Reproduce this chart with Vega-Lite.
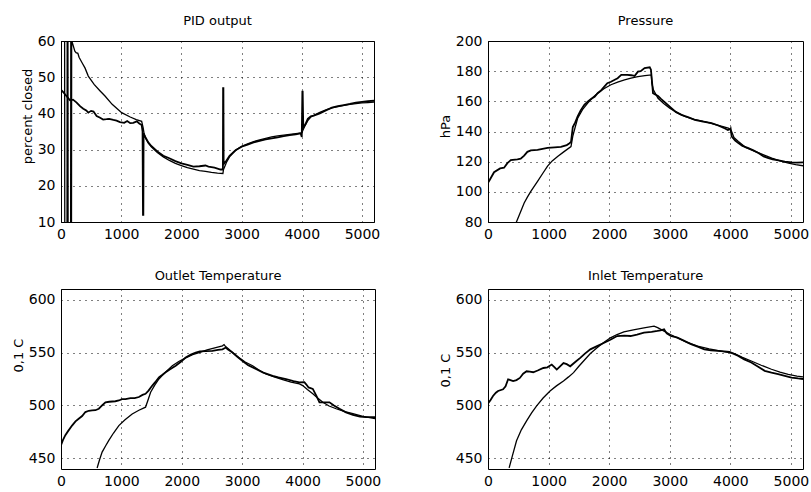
{
  "$schema": "https://vega.github.io/schema/vega-lite/v6.json",
  "padding": {"left": 11, "top": 14, "right": 5, "bottom": 5},
  "background": "white",
  "config": {
    "font": "DejaVu Sans",
    "view": {"stroke": "black", "strokeWidth": 1},
    "axis": {
      "grid": true, "gridDash": [1, 5], "gridColor": "black", "gridOpacity": 1, "gridWidth": 1,
      "domain": false, "ticks": false,
      "labelFont": "DejaVu Sans", "labelFontSize": 14, "labelColor": "black", "labelPadding": 6,
      "labelFlush": false, "labelOverlap": false,
      "titleFont": "DejaVu Sans", "titleFontSize": 13, "titleFontWeight": "normal", "titleColor": "black", "titlePadding": 3
    },
    "axisX": {"labelPadding": 5},
    "title": {"font": "DejaVu Sans", "fontSize": 13, "fontWeight": "normal", "color": "black", "offset": 6}
  },
  "bounds": "flush",
  "columns": 2,
  "spacing": {"row": 67, "column": 113},
  "datasets": {
    "pid": [
      {"t":0,"v":5,"s":"a"},{"t":3,"v":65,"s":"a"},{"t":60,"v":65,"s":"a"},{"t":63,"v":5,"s":"a"},{"t":100,"v":5,"s":"a"},{"t":103,"v":65,"s":"a"},{"t":115,"v":65,"s":"a"},{"t":118,"v":5,"s":"a"},{"t":160,"v":5,"s":"a"},{"t":163,"v":65,"s":"a"},{"t":168,"v":65,"s":"a"},{"t":171,"v":5,"s":"a"},{"t":174,"v":5,"s":"a"},{"t":177,"v":64,"s":"a"},
      {"t":180,"v":60,"s":"a"},{"t":230,"v":57.2,"s":"a"},{"t":250,"v":56.8,"s":"a"},{"t":280,"v":56.6,"s":"a"},{"t":300,"v":55.5,"s":"a"},{"t":350,"v":54,"s":"a"},{"t":400,"v":52.5,"s":"a"},{"t":453,"v":50.3,"s":"a"},{"t":550,"v":48,"s":"a"},{"t":650,"v":46.2,"s":"a"},{"t":731,"v":44.8,"s":"a"},{"t":850,"v":42.5,"s":"a"},{"t":1008,"v":40.2,"s":"a"},{"t":1150,"v":39,"s":"a"},{"t":1250,"v":38.3,"s":"a"},{"t":1340,"v":37.8,"s":"a"},{"t":1365,"v":36,"s":"a"},{"t":1380,"v":34.5,"s":"a"},{"t":1400,"v":33.3,"s":"a"},{"t":1450,"v":31.8,"s":"a"},{"t":1500,"v":30.8,"s":"a"},{"t":1600,"v":29.2,"s":"a"},{"t":1700,"v":28,"s":"a"},{"t":1800,"v":27,"s":"a"},{"t":1900,"v":26.2,"s":"a"},{"t":2000,"v":25.6,"s":"a"},{"t":2100,"v":25,"s":"a"},{"t":2200,"v":24.6,"s":"a"},{"t":2300,"v":24.2,"s":"a"},{"t":2400,"v":24,"s":"a"},{"t":2500,"v":23.7,"s":"a"},{"t":2600,"v":23.5,"s":"a"},{"t":2690,"v":23.4,"s":"a"},{"t":2700,"v":24.5,"s":"a"},{"t":2750,"v":26.5,"s":"a"},{"t":2800,"v":28,"s":"a"},{"t":2900,"v":29.8,"s":"a"},{"t":3000,"v":30.9,"s":"a"},{"t":3100,"v":31.6,"s":"a"},{"t":3200,"v":32.2,"s":"a"},{"t":3300,"v":32.7,"s":"a"},{"t":3400,"v":33.1,"s":"a"},{"t":3500,"v":33.5,"s":"a"},{"t":3600,"v":33.8,"s":"a"},{"t":3700,"v":34,"s":"a"},{"t":3800,"v":34.2,"s":"a"},{"t":3900,"v":34.4,"s":"a"},{"t":4000,"v":34.6,"s":"a"},{"t":4050,"v":36.5,"s":"a"},{"t":4100,"v":38,"s":"a"},{"t":4150,"v":39,"s":"a"},{"t":4200,"v":39.5,"s":"a"},{"t":4300,"v":40.3,"s":"a"},{"t":4400,"v":41,"s":"a"},{"t":4500,"v":41.5,"s":"a"},{"t":4600,"v":41.9,"s":"a"},{"t":4700,"v":42.2,"s":"a"},{"t":4800,"v":42.5,"s":"a"},{"t":4900,"v":42.7,"s":"a"},{"t":5000,"v":42.9,"s":"a"},{"t":5100,"v":43,"s":"a"},{"t":5200,"v":43.1,"s":"a"},
      {"t":0,"v":46.5,"s":"b"},{"t":30,"v":46,"s":"b"},{"t":66,"v":45.3,"s":"b"},{"t":150,"v":43.6,"s":"b"},{"t":200,"v":43.8,"s":"b"},{"t":260,"v":43,"s":"b"},{"t":316,"v":42,"s":"b"},{"t":370,"v":41.3,"s":"b"},{"t":420,"v":40.8,"s":"b"},{"t":453,"v":40.2,"s":"b"},{"t":500,"v":40.7,"s":"b"},{"t":540,"v":40.5,"s":"b"},{"t":592,"v":39.3,"s":"b"},{"t":650,"v":38.8,"s":"b"},{"t":700,"v":38.3,"s":"b"},{"t":757,"v":38.4,"s":"b"},{"t":800,"v":38.5,"s":"b"},{"t":870,"v":38.2,"s":"b"},{"t":923,"v":38,"s":"b"},{"t":980,"v":37.6,"s":"b"},{"t":1050,"v":37.4,"s":"b"},{"t":1100,"v":37.9,"s":"b"},{"t":1150,"v":37.3,"s":"b"},{"t":1200,"v":37.4,"s":"b"},{"t":1260,"v":37.8,"s":"b"},{"t":1300,"v":37.2,"s":"b"},{"t":1340,"v":36.8,"s":"b"},{"t":1355,"v":35,"s":"b"},{"t":1362,"v":12,"s":"b"},{"t":1368,"v":12,"s":"b"},{"t":1372,"v":34.5,"s":"b"},{"t":1400,"v":33.5,"s":"b"},{"t":1450,"v":32,"s":"b"},{"t":1500,"v":31,"s":"b"},{"t":1600,"v":29.5,"s":"b"},{"t":1700,"v":28.3,"s":"b"},{"t":1800,"v":27.6,"s":"b"},{"t":1900,"v":26.8,"s":"b"},{"t":2000,"v":26.2,"s":"b"},{"t":2100,"v":25.8,"s":"b"},{"t":2200,"v":25.3,"s":"b"},{"t":2300,"v":25.4,"s":"b"},{"t":2400,"v":25.6,"s":"b"},{"t":2450,"v":25.3,"s":"b"},{"t":2550,"v":25,"s":"b"},{"t":2650,"v":24.5,"s":"b"},{"t":2690,"v":24.5,"s":"b"},{"t":2693,"v":47,"s":"b"},{"t":2698,"v":47,"s":"b"},{"t":2702,"v":26,"s":"b"},{"t":2750,"v":27,"s":"b"},{"t":2800,"v":28.3,"s":"b"},{"t":2900,"v":29.8,"s":"b"},{"t":3000,"v":30.8,"s":"b"},{"t":3100,"v":31.4,"s":"b"},{"t":3200,"v":32,"s":"b"},{"t":3300,"v":32.4,"s":"b"},{"t":3400,"v":32.8,"s":"b"},{"t":3500,"v":33.1,"s":"b"},{"t":3600,"v":33.4,"s":"b"},{"t":3700,"v":33.7,"s":"b"},{"t":3800,"v":34,"s":"b"},{"t":3900,"v":34.2,"s":"b"},{"t":3980,"v":34.5,"s":"b"},{"t":4000,"v":33.5,"s":"b"},{"t":4010,"v":46,"s":"b"},{"t":4015,"v":46,"s":"b"},{"t":4025,"v":36,"s":"b"},{"t":4060,"v":37,"s":"b"},{"t":4100,"v":38.5,"s":"b"},{"t":4150,"v":39.2,"s":"b"},{"t":4200,"v":39.4,"s":"b"},{"t":4300,"v":40,"s":"b"},{"t":4400,"v":40.8,"s":"b"},{"t":4500,"v":41.6,"s":"b"},{"t":4600,"v":42,"s":"b"},{"t":4700,"v":42.3,"s":"b"},{"t":4800,"v":42.6,"s":"b"},{"t":4900,"v":43,"s":"b"},{"t":5000,"v":43.2,"s":"b"},{"t":5100,"v":43.4,"s":"b"},{"t":5200,"v":43.5,"s":"b"}
    ],
    "pressure": [
      {"t":0,"v":106,"s":"b"},{"t":30,"v":108,"s":"b"},{"t":100,"v":113,"s":"b"},{"t":200,"v":115.5,"s":"b"},{"t":265,"v":116,"s":"b"},{"t":320,"v":119,"s":"b"},{"t":376,"v":121,"s":"b"},{"t":486,"v":121.5,"s":"b"},{"t":540,"v":122,"s":"b"},{"t":597,"v":124,"s":"b"},{"t":650,"v":126.5,"s":"b"},{"t":707,"v":127.5,"s":"b"},{"t":818,"v":127.8,"s":"b"},{"t":900,"v":128.5,"s":"b"},{"t":983,"v":129.2,"s":"b"},{"t":1100,"v":129.5,"s":"b"},{"t":1204,"v":129.8,"s":"b"},{"t":1300,"v":131,"s":"b"},{"t":1340,"v":132,"s":"b"},{"t":1370,"v":133,"s":"b"},{"t":1400,"v":143,"s":"b"},{"t":1440,"v":146,"s":"b"},{"t":1480,"v":150,"s":"b"},{"t":1530,"v":154,"s":"b"},{"t":1590,"v":157.7,"s":"b"},{"t":1650,"v":160,"s":"b"},{"t":1700,"v":161.5,"s":"b"},{"t":1760,"v":163,"s":"b"},{"t":1810,"v":165.4,"s":"b"},{"t":1860,"v":167,"s":"b"},{"t":1920,"v":169.8,"s":"b"},{"t":1970,"v":172,"s":"b"},{"t":2030,"v":173,"s":"b"},{"t":2100,"v":174.5,"s":"b"},{"t":2140,"v":175.3,"s":"b"},{"t":2200,"v":177.5,"s":"b"},{"t":2300,"v":177.5,"s":"b"},{"t":2365,"v":177.3,"s":"b"},{"t":2420,"v":176.8,"s":"b"},{"t":2475,"v":179.7,"s":"b"},{"t":2520,"v":180,"s":"b"},{"t":2585,"v":182,"s":"b"},{"t":2670,"v":182.6,"s":"b"},{"t":2690,"v":181,"s":"b"},{"t":2700,"v":176.4,"s":"b"},{"t":2724,"v":165.4,"s":"b"},{"t":2760,"v":164.5,"s":"b"},{"t":2807,"v":163.5,"s":"b"},{"t":2860,"v":161.5,"s":"b"},{"t":2917,"v":159.5,"s":"b"},{"t":3028,"v":155.5,"s":"b"},{"t":3100,"v":153,"s":"b"},{"t":3193,"v":151,"s":"b"},{"t":3300,"v":149.5,"s":"b"},{"t":3414,"v":147.7,"s":"b"},{"t":3550,"v":146.5,"s":"b"},{"t":3690,"v":145.5,"s":"b"},{"t":3800,"v":144,"s":"b"},{"t":3912,"v":142,"s":"b"},{"t":3960,"v":141,"s":"b"},{"t":3995,"v":141.5,"s":"b"},{"t":4005,"v":142,"s":"b"},{"t":4022,"v":136.7,"s":"b"},{"t":4080,"v":134,"s":"b"},{"t":4133,"v":132.3,"s":"b"},{"t":4200,"v":130.5,"s":"b"},{"t":4298,"v":129,"s":"b"},{"t":4380,"v":127.5,"s":"b"},{"t":4464,"v":125.7,"s":"b"},{"t":4550,"v":123.5,"s":"b"},{"t":4630,"v":122.4,"s":"b"},{"t":4700,"v":121.5,"s":"b"},{"t":4796,"v":120.8,"s":"b"},{"t":4900,"v":120,"s":"b"},{"t":5017,"v":119.5,"s":"b"},{"t":5100,"v":119.3,"s":"b"},{"t":5200,"v":119.5,"s":"b"},
      {"t":459,"v":79,"s":"a"},{"t":530,"v":86,"s":"a"},{"t":597,"v":92.6,"s":"a"},{"t":650,"v":96.5,"s":"a"},{"t":707,"v":100.3,"s":"a"},{"t":818,"v":107,"s":"a"},{"t":900,"v":112,"s":"a"},{"t":983,"v":117,"s":"a"},{"t":1060,"v":120.5,"s":"a"},{"t":1149,"v":123.5,"s":"a"},{"t":1250,"v":126.5,"s":"a"},{"t":1370,"v":130,"s":"a"},{"t":1400,"v":137,"s":"a"},{"t":1440,"v":143,"s":"a"},{"t":1480,"v":148.8,"s":"a"},{"t":1560,"v":154.5,"s":"a"},{"t":1646,"v":158.8,"s":"a"},{"t":1730,"v":162.5,"s":"a"},{"t":1810,"v":165.4,"s":"a"},{"t":1920,"v":168.5,"s":"a"},{"t":2030,"v":171,"s":"a"},{"t":2140,"v":172.8,"s":"a"},{"t":2254,"v":174.2,"s":"a"},{"t":2360,"v":175.4,"s":"a"},{"t":2475,"v":176.4,"s":"a"},{"t":2590,"v":177,"s":"a"},{"t":2696,"v":177.5,"s":"a"},{"t":2705,"v":172,"s":"a"},{"t":2730,"v":167.6,"s":"a"},{"t":2807,"v":162,"s":"a"},{"t":2900,"v":158.5,"s":"a"},{"t":3000,"v":155.5,"s":"a"},{"t":3120,"v":152.5,"s":"a"},{"t":3250,"v":150,"s":"a"},{"t":3400,"v":148,"s":"a"},{"t":3580,"v":146.6,"s":"a"},{"t":3760,"v":144.5,"s":"a"},{"t":3967,"v":142.2,"s":"a"},{"t":4000,"v":141.5,"s":"a"},{"t":4022,"v":140,"s":"a"},{"t":4060,"v":136,"s":"a"},{"t":4133,"v":133.4,"s":"a"},{"t":4250,"v":129.5,"s":"a"},{"t":4409,"v":126.8,"s":"a"},{"t":4550,"v":124.5,"s":"a"},{"t":4685,"v":122.4,"s":"a"},{"t":4820,"v":120.5,"s":"a"},{"t":4961,"v":119,"s":"a"},{"t":5080,"v":118,"s":"a"},{"t":5200,"v":117.3,"s":"a"}
    ],
    "outlet": [
      {"t":0,"v":462.5,"s":"b"},{"t":30,"v":467,"s":"b"},{"t":72,"v":471.9,"s":"b"},{"t":120,"v":476,"s":"b"},{"t":183,"v":481,"s":"b"},{"t":240,"v":485,"s":"b"},{"t":293,"v":487.5,"s":"b"},{"t":350,"v":490,"s":"b"},{"t":404,"v":493.8,"s":"b"},{"t":460,"v":495,"s":"b"},{"t":515,"v":495.3,"s":"b"},{"t":570,"v":495.5,"s":"b"},{"t":626,"v":496.9,"s":"b"},{"t":680,"v":500,"s":"b"},{"t":736,"v":503,"s":"b"},{"t":800,"v":503.5,"s":"b"},{"t":900,"v":504,"s":"b"},{"t":958,"v":504.7,"s":"b"},{"t":1010,"v":506,"s":"b"},{"t":1069,"v":506,"s":"b"},{"t":1150,"v":507,"s":"b"},{"t":1220,"v":507,"s":"b"},{"t":1290,"v":508,"s":"b"},{"t":1350,"v":510,"s":"b"},{"t":1400,"v":511,"s":"b"},{"t":1450,"v":514,"s":"b"},{"t":1512,"v":518.8,"s":"b"},{"t":1560,"v":522,"s":"b"},{"t":1622,"v":526.6,"s":"b"},{"t":1680,"v":529,"s":"b"},{"t":1733,"v":531.3,"s":"b"},{"t":1800,"v":534,"s":"b"},{"t":1900,"v":537.5,"s":"b"},{"t":1980,"v":541,"s":"b"},{"t":2065,"v":545.3,"s":"b"},{"t":2150,"v":548,"s":"b"},{"t":2231,"v":550,"s":"b"},{"t":2300,"v":551,"s":"b"},{"t":2400,"v":551.3,"s":"b"},{"t":2508,"v":551.6,"s":"b"},{"t":2600,"v":552.5,"s":"b"},{"t":2674,"v":553,"s":"b"},{"t":2730,"v":554.7,"s":"b"},{"t":2760,"v":553,"s":"b"},{"t":2840,"v":550,"s":"b"},{"t":2920,"v":546,"s":"b"},{"t":3007,"v":542,"s":"b"},{"t":3100,"v":538,"s":"b"},{"t":3228,"v":534.4,"s":"b"},{"t":3350,"v":531,"s":"b"},{"t":3505,"v":528,"s":"b"},{"t":3600,"v":526.5,"s":"b"},{"t":3726,"v":525,"s":"b"},{"t":3850,"v":523,"s":"b"},{"t":3948,"v":521.9,"s":"b"},{"t":4030,"v":522,"s":"b"},{"t":4060,"v":520,"s":"b"},{"t":4100,"v":517,"s":"b"},{"t":4170,"v":515.6,"s":"b"},{"t":4230,"v":509,"s":"b"},{"t":4280,"v":503,"s":"b"},{"t":4350,"v":503,"s":"b"},{"t":4446,"v":503,"s":"b"},{"t":4520,"v":500,"s":"b"},{"t":4612,"v":496.9,"s":"b"},{"t":4720,"v":493.5,"s":"b"},{"t":4834,"v":491,"s":"b"},{"t":4950,"v":489.5,"s":"b"},{"t":5055,"v":489,"s":"b"},{"t":5200,"v":489,"s":"b"},
      {"t":598,"v":441,"s":"a"},{"t":640,"v":449,"s":"a"},{"t":681,"v":456,"s":"a"},{"t":740,"v":462,"s":"a"},{"t":792,"v":467,"s":"a"},{"t":870,"v":474,"s":"a"},{"t":958,"v":481,"s":"a"},{"t":1060,"v":486.5,"s":"a"},{"t":1179,"v":492,"s":"a"},{"t":1290,"v":495.5,"s":"a"},{"t":1400,"v":498.4,"s":"a"},{"t":1440,"v":505,"s":"a"},{"t":1484,"v":512.5,"s":"a"},{"t":1550,"v":519,"s":"a"},{"t":1622,"v":525,"s":"a"},{"t":1730,"v":531.5,"s":"a"},{"t":1844,"v":537.5,"s":"a"},{"t":1950,"v":541.5,"s":"a"},{"t":2065,"v":545,"s":"a"},{"t":2180,"v":548,"s":"a"},{"t":2287,"v":550,"s":"a"},{"t":2420,"v":552.5,"s":"a"},{"t":2563,"v":554.7,"s":"a"},{"t":2674,"v":556.3,"s":"a"},{"t":2700,"v":557.5,"s":"a"},{"t":2720,"v":556,"s":"a"},{"t":2780,"v":553,"s":"a"},{"t":2850,"v":549.5,"s":"a"},{"t":2950,"v":545,"s":"a"},{"t":3050,"v":541,"s":"a"},{"t":3173,"v":537.5,"s":"a"},{"t":3290,"v":533,"s":"a"},{"t":3394,"v":529.7,"s":"a"},{"t":3530,"v":527,"s":"a"},{"t":3671,"v":524.4,"s":"a"},{"t":3810,"v":522,"s":"a"},{"t":3948,"v":520.3,"s":"a"},{"t":4003,"v":518.8,"s":"a"},{"t":4080,"v":515,"s":"a"},{"t":4170,"v":511,"s":"a"},{"t":4250,"v":507,"s":"a"},{"t":4336,"v":503,"s":"a"},{"t":4440,"v":499.5,"s":"a"},{"t":4557,"v":496.9,"s":"a"},{"t":4700,"v":494.3,"s":"a"},{"t":4834,"v":492.2,"s":"a"},{"t":5000,"v":489.8,"s":"a"},{"t":5200,"v":487.5,"s":"a"}
    ],
    "inlet": [
      {"t":0,"v":502,"s":"b"},{"t":40,"v":505,"s":"b"},{"t":83,"v":509,"s":"b"},{"t":130,"v":512,"s":"b"},{"t":166,"v":513.7,"s":"b"},{"t":249,"v":515.3,"s":"b"},{"t":290,"v":518,"s":"b"},{"t":332,"v":524.7,"s":"b"},{"t":370,"v":524,"s":"b"},{"t":415,"v":523,"s":"b"},{"t":470,"v":524,"s":"b"},{"t":526,"v":526,"s":"b"},{"t":580,"v":530,"s":"b"},{"t":637,"v":532.3,"s":"b"},{"t":690,"v":532,"s":"b"},{"t":747,"v":531.4,"s":"b"},{"t":820,"v":533,"s":"b"},{"t":914,"v":535.4,"s":"b"},{"t":980,"v":536,"s":"b"},{"t":1052,"v":538.6,"s":"b"},{"t":1100,"v":536,"s":"b"},{"t":1135,"v":533.9,"s":"b"},{"t":1190,"v":537,"s":"b"},{"t":1246,"v":540,"s":"b"},{"t":1300,"v":539,"s":"b"},{"t":1357,"v":537,"s":"b"},{"t":1440,"v":541,"s":"b"},{"t":1523,"v":545,"s":"b"},{"t":1600,"v":549,"s":"b"},{"t":1689,"v":553,"s":"b"},{"t":1800,"v":556,"s":"b"},{"t":1910,"v":559,"s":"b"},{"t":2020,"v":562,"s":"b"},{"t":2132,"v":565.6,"s":"b"},{"t":2250,"v":566,"s":"b"},{"t":2353,"v":565.6,"s":"b"},{"t":2460,"v":567,"s":"b"},{"t":2575,"v":568.8,"s":"b"},{"t":2700,"v":569.5,"s":"b"},{"t":2796,"v":570.4,"s":"b"},{"t":2850,"v":571,"s":"b"},{"t":2907,"v":572,"s":"b"},{"t":2950,"v":568,"s":"b"},{"t":3018,"v":565.6,"s":"b"},{"t":3128,"v":564,"s":"b"},{"t":3240,"v":561,"s":"b"},{"t":3350,"v":558,"s":"b"},{"t":3460,"v":555.5,"s":"b"},{"t":3571,"v":553,"s":"b"},{"t":3680,"v":552,"s":"b"},{"t":3793,"v":551.6,"s":"b"},{"t":3900,"v":551,"s":"b"},{"t":3987,"v":550.6,"s":"b"},{"t":4050,"v":549,"s":"b"},{"t":4125,"v":547,"s":"b"},{"t":4230,"v":543.5,"s":"b"},{"t":4346,"v":540.6,"s":"b"},{"t":4460,"v":536.5,"s":"b"},{"t":4568,"v":532.7,"s":"b"},{"t":4680,"v":531,"s":"b"},{"t":4790,"v":529.6,"s":"b"},{"t":4900,"v":528,"s":"b"},{"t":5011,"v":526.4,"s":"b"},{"t":5120,"v":525.5,"s":"b"},{"t":5200,"v":525,"s":"b"},
      {"t":349,"v":441,"s":"a"},{"t":400,"v":452,"s":"a"},{"t":471,"v":466.6,"s":"a"},{"t":550,"v":477,"s":"a"},{"t":637,"v":485.5,"s":"a"},{"t":720,"v":493,"s":"a"},{"t":803,"v":499.7,"s":"a"},{"t":910,"v":507,"s":"a"},{"t":1024,"v":513.7,"s":"a"},{"t":1130,"v":518.5,"s":"a"},{"t":1246,"v":523.2,"s":"a"},{"t":1330,"v":527,"s":"a"},{"t":1412,"v":531,"s":"a"},{"t":1500,"v":537,"s":"a"},{"t":1578,"v":542,"s":"a"},{"t":1690,"v":549,"s":"a"},{"t":1800,"v":554.5,"s":"a"},{"t":1910,"v":559.5,"s":"a"},{"t":2021,"v":563.9,"s":"a"},{"t":2130,"v":567,"s":"a"},{"t":2243,"v":569.6,"s":"a"},{"t":2400,"v":571.5,"s":"a"},{"t":2575,"v":573.3,"s":"a"},{"t":2741,"v":575,"s":"a"},{"t":2800,"v":573.5,"s":"a"},{"t":2907,"v":570.2,"s":"a"},{"t":3010,"v":567,"s":"a"},{"t":3128,"v":563.9,"s":"a"},{"t":3290,"v":559.5,"s":"a"},{"t":3460,"v":556,"s":"a"},{"t":3650,"v":553.5,"s":"a"},{"t":3848,"v":551.4,"s":"a"},{"t":4070,"v":548.9,"s":"a"},{"t":4200,"v":545.5,"s":"a"},{"t":4346,"v":542,"s":"a"},{"t":4510,"v":538,"s":"a"},{"t":4679,"v":534.2,"s":"a"},{"t":4820,"v":531.5,"s":"a"},{"t":4956,"v":529.4,"s":"a"},{"t":5100,"v":527.8,"s":"a"},{"t":5200,"v":527,"s":"a"}
    ]
  },
  "concat": [
    {
      "width": 313, "height": 181, "title": "PID output",
      "data": {"name": "pid"},
      "mark": {"type": "line", "clip": true, "color": "black"},
      "encoding": {
        "x": {"field": "t", "type": "quantitative", "scale": {"domain": [0, 5200], "nice": false, "zero": false}, "axis": {"values": [0,1000,2000,3000,4000,5000], "format": "d", "title": null}},
        "y": {"field": "v", "type": "quantitative", "scale": {"domain": [10, 60], "nice": false, "zero": false}, "axis": {"values": [10,20,30,40,50,60], "title": "percent closed", "titleY": 75}},
        "detail": {"field": "s"},
        "strokeWidth": {"field": "s", "type": "nominal", "scale": {"domain": ["a","b"], "range": [1.3, 1.8]}, "legend": null}
      }
    },
    {
      "width": 315, "height": 181, "title": "Pressure",
      "data": {"name": "pressure"},
      "mark": {"type": "line", "clip": true, "color": "black"},
      "encoding": {
        "x": {"field": "t", "type": "quantitative", "scale": {"domain": [0, 5200], "nice": false, "zero": false}, "axis": {"values": [0,1000,2000,3000,4000,5000], "format": "d", "title": null}},
        "y": {"field": "v", "type": "quantitative", "scale": {"domain": [80, 200], "nice": false, "zero": false}, "axis": {"values": [80,100,120,140,160,180,200], "title": "hPa", "titleY": 85}},
        "detail": {"field": "s"},
        "strokeWidth": {"field": "s", "type": "nominal", "scale": {"domain": ["a","b"], "range": [1.3, 1.8]}, "legend": null}
      }
    },
    {
      "width": 314, "height": 180, "title": "Outlet Temperature",
      "data": {"name": "outlet"},
      "mark": {"type": "line", "clip": true, "color": "black"},
      "encoding": {
        "x": {"field": "t", "type": "quantitative", "scale": {"domain": [0, 5200], "nice": false, "zero": false}, "axis": {"values": [0,1000,2000,3000,4000,5000], "format": "d", "title": null}},
        "y": {"field": "v", "type": "quantitative", "scale": {"domain": [440, 610], "nice": false, "zero": false}, "axis": {"values": [450,500,550,600], "title": "0,1 C", "titleY": 66}},
        "detail": {"field": "s"},
        "strokeWidth": {"field": "s", "type": "nominal", "scale": {"domain": ["a","b"], "range": [1.3, 1.7]}, "legend": null}
      }
    },
    {
      "width": 315, "height": 180, "title": "Inlet Temperature",
      "data": {"name": "inlet"},
      "mark": {"type": "line", "clip": true, "color": "black"},
      "encoding": {
        "x": {"field": "t", "type": "quantitative", "scale": {"domain": [0, 5200], "nice": false, "zero": false}, "axis": {"values": [0,1000,2000,3000,4000,5000], "format": "d", "title": null}},
        "y": {"field": "v", "type": "quantitative", "scale": {"domain": [440, 610], "nice": false, "zero": false}, "axis": {"values": [450,500,550,600], "title": "0,1 C", "titleY": 81}},
        "detail": {"field": "s"},
        "strokeWidth": {"field": "s", "type": "nominal", "scale": {"domain": ["a","b"], "range": [1.3, 1.7]}, "legend": null}
      }
    }
  ]
}
